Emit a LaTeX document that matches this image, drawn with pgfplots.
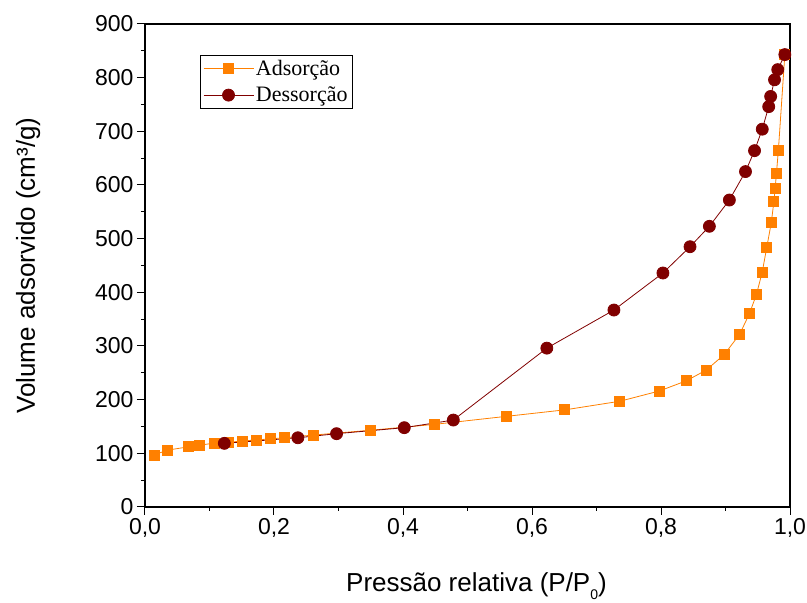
\documentclass[border=0pt]{standalone}
\usepackage{pgfplots}
\pgfplotsset{compat=1.18}
\usepackage{fontspec}
\setmainfont{Liberation Sans}
\newfontfamily\seriffont{Liberation Serif}
\definecolor{ads}{RGB}{255,128,0}
\definecolor{des}{RGB}{128,0,0}
\begin{document}
\begin{tikzpicture}
\begin{axis}[
  name=ax,
  scale only axis,
  width=645bp, height=483bp,
  xmin=0, xmax=1.0, ymin=0, ymax=900,
  xtick={0,0.2,0.4,0.6,0.8,1.0},
  minor xtick={0.1,0.3,0.5,0.7,0.9},
  ytick={0,100,...,900},
  minor ytick={50,150,...,850},
  tick align=outside,
  tick pos=left,
  major tick length=8bp,
  minor tick length=4bp,
  every tick/.style={black, line width=1bp},
  axis line style={line width=1.2bp},
  /pgf/number format/assume math mode=true,
  xticklabel style={/pgf/number format/.cd, use comma, fixed, fixed zerofill, precision=1},
  yticklabel style={/pgf/number format/.cd, fixed, precision=0},
  ticklabel style={font=\fontsize{23bp}{27bp}\selectfont},
  xlabel={Pressão relativa (P/P\raisebox{-0.33em}{\fontsize{14bp}{16bp}\selectfont 0})},
  ylabel={Volume adsorvido (cm³/g)},
  label style={font=\fontsize{26bp}{31bp}\selectfont},
  xlabel style={yshift=-28bp, xshift=9bp},
  ylabel style={yshift=48bp},
  legend style={at={(0.085,0.936)}, anchor=north west, draw=black, line width=0.6bp,
    font=\seriffont\fontsize{22bp}{26bp}\selectfont, inner sep=3bp,
    row sep=6bp},
  legend cell align=left,
  legend image code/.code={%
    \draw[mark repeat=2,mark phase=2] plot coordinates {(0bp,0bp) (25bp,0bp) (50bp,0bp)};},
]
\addplot[color=ads, line width=0.8bp, mark=square*, mark size=5bp, mark options={solid, fill=ads, draw=ads}]
coordinates {
(0.014,97) (0.035,106) (0.067,112) (0.084,115) (0.107,119) (0.129,120.5) (0.151,123)
(0.173,125) (0.195,127) (0.216,129) (0.261,134) (0.350,143) (0.449,154)
(0.561,169) (0.651,181) (0.736,197) (0.797,216) (0.839,235) (0.870,255) (0.898,284)
(0.922,322) (0.937,360) (0.948,396) (0.957,438) (0.964,484) (0.971,530) (0.975,569)
(0.977,594) (0.979,622) (0.982,665) (0.992,843)
};
\addlegendentry{Adsorção}
\addplot[color=des, line width=0.8bp, mark=*, mark size=6bp, mark options={solid, fill=des, draw=des}]
coordinates {
(0.123,118.6) (0.237,129) (0.297,136.6) (0.402,147.8) (0.478,162)
(0.623,296) (0.727,367) (0.803,436) (0.845,485) (0.875,523) (0.906,572)
(0.931,625) (0.945,664) (0.957,704) (0.967,746) (0.970,765) (0.976,796)
(0.981,815) (0.992,843)
};
\addlegendentry{Dessorção}
\end{axis}
\pgfresetboundingbox
\path[use as bounding box] ([xshift=-145bp,yshift=-96bp]ax.south west) rectangle ([xshift=17bp,yshift=24bp]ax.north east);
\end{tikzpicture}
\end{document}
